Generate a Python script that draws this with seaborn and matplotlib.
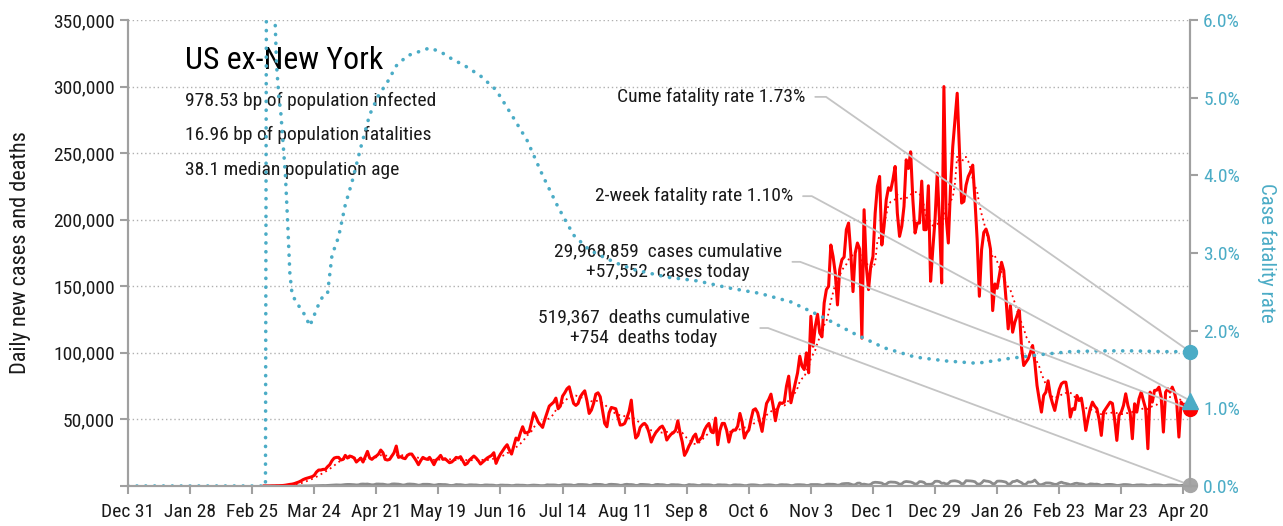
import numpy as np
import pandas as pd
import matplotlib
matplotlib.use("Agg")
import matplotlib.pyplot as plt
import matplotlib.dates as mdates
from matplotlib import font_manager
from matplotlib.ticker import FixedLocator, FuncFormatter
import seaborn as sns

# ---------------- data ----------------
start_date = "2020-03-01"
# daily new cases (thousands), weeks Sun..Sat from Mar 1 2020
cases_k = [
    0.0, 0.0, 0.0, 0.0, 0.1, 0.1, 0.2,
    0.2, 0.3, 0.4, 0.6, 0.9, 1.2, 1.4,
    1.8, 2.4, 3.0, 3.8, 4.8, 5.5, 6.0,
    6.5, 7.0, 8.0, 10.5, 12.0, 12.0, 12.5,
    12.5, 14.5, 16.0, 19.0, 21.0, 21.5, 21.5,
    19.5, 20.0, 23.0, 21.0, 22.5, 22.0, 21.0,
    18.0, 19.5, 21.0, 18.0, 22.0, 26.0, 21.0,
    20.0, 21.5, 22.5, 24.0, 27.0, 25.0, 20.0,
    19.5, 20.0, 22.5, 25.0, 30.0, 21.5, 22.0,
    21.0, 20.5, 23.0, 24.0, 24.0, 21.5, 19.0,
    16.0, 19.0, 21.5, 20.5, 20.0, 21.5, 19.0,
    16.0, 19.5, 21.0, 23.0, 20.0, 20.5, 19.0,
    17.5, 18.0, 19.5, 21.5, 21.0, 22.0, 19.0,
    16.0, 17.0, 19.5, 21.0, 22.5, 21.0, 19.0,
    16.5, 18.0, 19.5, 21.0, 22.0, 23.0, 25.0,
    17.0, 21.0, 24.0, 26.5, 29.0, 31.0, 27.0,
    24.0, 30.0, 36.0, 34.5, 40.0, 44.5, 40.0,
    40.0, 41.0, 48.0, 55.0, 52.0, 48.0, 46.0,
    44.0, 50.0, 55.0, 60.0, 61.5, 63.0, 66.0,
    58.0, 60.0, 67.5, 70.0, 73.0, 74.5, 68.0,
    62.0, 60.5, 62.0, 67.0, 69.5, 71.5, 64.0,
    54.5, 57.0, 62.0, 69.0, 70.0, 67.0, 57.0,
    47.0, 44.5, 55.0, 59.0, 58.5, 58.0, 52.0,
    45.75, 46.0, 47.0, 51.0, 56.0, 64.5, 47.0,
    36.0, 38.0, 44.0, 46.0, 47.0, 45.0, 40.0,
    33.0, 37.0, 40.0, 42.0, 44.0, 45.0, 42.0,
    34.5, 37.0, 39.0, 40.0, 42.0, 49.0, 40.0,
    33.0, 23.0, 26.0, 30.0, 33.0, 37.0, 39.0,
    33.0, 35.0, 37.0, 42.0, 45.0, 47.0, 41.0,
    40.0, 51.0, 31.0, 42.0, 47.0, 47.0, 42.0,
    33.0, 40.0, 42.0, 42.0, 45.0, 54.5, 48.0,
    36.0, 40.0, 42.0, 50.0, 57.0, 58.0, 55.0,
    48.0, 41.0, 52.0, 62.0, 65.0, 69.0, 60.0,
    49.0, 58.0, 62.5, 62.0, 63.0, 75.0, 82.5,
    62.5, 70.0, 77.5, 85.0, 97.5, 90.0, 87.5,
    100.0, 85.0, 127.5, 105.0, 120.0, 129.0, 115.0,
    112.0, 137.5, 147.5, 150.0, 181.0, 172.5, 160.0,
    136.0, 162.5, 170.0, 172.0, 192.5, 197.5, 175.0,
    146.0, 175.0, 182.5, 178.0, 111.0, 207.5, 165.0,
    147.5, 165.0, 172.5, 205.0, 225.0, 232.5, 181.0,
    195.0, 215.0, 224.0, 222.0, 230.0, 240.0, 205.0,
    187.5, 195.0, 210.0, 245.0, 238.5, 251.0, 215.0,
    190.0, 197.5, 197.5, 229.0, 192.5, 192.5, 225.5,
    153.75, 178.0, 200.0, 235.0, 200.0, 152.5, 300.0,
    202.5, 182.5, 225.0, 255.0, 275.0, 295.0, 252.5,
    212.5, 213.75, 226.0, 232.5, 236.0, 241.0, 215.0,
    185.0, 142.5, 177.5, 190.5, 193.0, 187.5, 178.0,
    131.75, 151.75, 148.5, 158.0, 168.0, 161.75, 140.5,
    118.0, 135.5, 115.5, 123.0, 128.0, 133.0, 104.25,
    90.5, 93.0, 95.5, 100.0, 105.5, 93.0, 75.5,
    65.0, 55.5, 68.0, 70.5, 79.0, 68.0, 62.0,
    56.75, 65.0, 72.5, 76.75, 78.0, 78.0, 68.0,
    51.75, 58.0, 57.5, 68.0, 64.25, 66.0, 55.5,
    41.75, 50.5, 58.0, 63.0, 60.0, 58.0, 50.0,
    38.0, 55.5, 58.0, 60.5, 63.0, 62.0, 50.0,
    34.25, 53.0, 55.5, 60.5, 69.25, 60.5, 55.0,
    35.5, 61.75, 55.5, 65.5, 70.5, 64.0, 58.0,
    28.0, 70.5, 63.0, 71.75, 72.0, 74.25, 66.75,
    40.5, 70.5, 73.0, 70.5, 74.25, 70.0, 63.0,
    36.75, 63.0, 59.25, 58.0, 58.5, 57.552,
]
# daily new deaths (thousands), same dates
deaths_k = [
    0, 0, 0, 0, 0, 0, 0,
    0, 0, 0, 0, 0, 0, 0.01,
    0.01, 0.02, 0.03, 0.04, 0.05, 0.06, 0.08,
    0.1, 0.15, 0.2, 0.25, 0.3, 0.35, 0.4,
    0.35, 0.45, 0.6, 0.7, 0.8, 0.85, 0.8,
    0.7, 0.9, 1.1, 1.2, 1.2, 1.1, 1.0,
    0.8, 0.9, 1.4, 1.5, 1.4, 1.5, 1.2,
    0.9, 1.0, 1.5, 1.5, 1.4, 1.4, 1.1,
    0.8, 0.9, 1.5, 1.6, 1.5, 1.4, 1.1,
    0.7, 0.9, 1.4, 1.5, 1.4, 1.3, 1.0,
    0.6, 0.8, 1.3, 1.3, 1.3, 1.2, 0.9,
    0.6, 0.8, 1.2, 1.2, 1.1, 1.1, 0.9,
    0.5, 0.4, 0.6, 1.1, 1.0, 1.0, 0.8,
    0.5, 0.6, 0.9, 0.9, 0.8, 0.8, 0.6,
    0.4, 0.5, 0.8, 0.8, 0.7, 0.7, 0.6,
    0.3, 0.4, 0.7, 0.7, 0.6, 0.6, 0.5,
    0.3, 0.4, 0.7, 0.7, 0.6, 0.6, 0.5,
    0.3, 0.4, 0.6, 0.7, 0.6, 0.5, 0.3,
    0.3, 0.4, 0.9, 0.8, 0.8, 0.8, 0.7,
    0.4, 0.5, 0.9, 1.0, 0.9, 0.9, 0.8,
    0.4, 0.6, 1.1, 1.1, 1.1, 1.0, 0.9,
    0.5, 0.6, 1.2, 1.3, 1.2, 1.2, 1.0,
    0.5, 0.6, 1.2, 1.3, 1.2, 1.1, 0.9,
    0.5, 0.6, 1.1, 1.3, 1.1, 1.1, 0.9,
    0.4, 0.5, 1.2, 1.2, 1.1, 1.0, 0.9,
    0.4, 0.5, 1.1, 1.2, 1.0, 1.0, 0.8,
    0.4, 0.5, 1.0, 1.0, 0.9, 0.9, 0.7,
    0.4, 0.3, 0.5, 1.1, 0.9, 0.9, 0.7,
    0.4, 0.4, 1.0, 0.9, 0.9, 0.9, 0.7,
    0.3, 0.4, 0.9, 0.9, 0.8, 0.8, 0.7,
    0.3, 0.3, 0.8, 0.9, 0.8, 0.8, 0.6,
    0.3, 0.3, 0.7, 0.9, 0.9, 0.8, 0.6,
    0.3, 0.3, 0.7, 0.8, 0.9, 0.8, 0.6,
    0.3, 0.4, 0.9, 1.0, 0.9, 0.9, 0.7,
    0.3, 0.4, 0.9, 1.0, 1.0, 0.9, 0.8,
    0.4, 0.5, 1.1, 1.1, 1.1, 1.1, 0.9,
    0.5, 0.6, 1.3, 1.4, 1.3, 1.3, 1.1,
    0.6, 0.8, 1.6, 1.8, 1.9, 1.9, 1.4,
    0.8, 1.0, 2.1, 2.2, 1.2, 1.4, 1.1,
    0.8, 1.2, 2.5, 2.8, 2.7, 2.5, 2.2,
    1.1, 1.4, 2.7, 3.0, 2.9, 2.8, 2.3,
    1.3, 1.6, 3.0, 3.4, 3.2, 3.0, 2.4,
    1.4, 1.8, 3.3, 3.2, 2.7, 1.2, 1.3,
    1.3, 1.8, 3.5, 3.6, 3.3, 2.0, 2.2,
    1.4, 1.9, 3.5, 3.8, 3.9, 3.6, 3.0,
    1.6, 1.9, 4.0, 3.9, 3.8, 3.6, 3.2,
    1.6, 1.3, 2.3, 4.1, 3.7, 3.5, 3.0,
    1.7, 1.8, 3.6, 3.7, 3.6, 3.3, 2.9,
    1.3, 1.7, 3.3, 3.5, 4.2, 3.3, 2.5,
    1.1, 1.4, 3.0, 2.9, 3.3, 4.5, 2.6,
    1.0, 1.0, 1.6, 2.3, 2.3, 2.2, 1.7,
    1.2, 1.3, 2.3, 2.9, 2.2, 1.9, 1.5,
    0.9, 1.3, 1.9, 2.1, 1.7, 1.6, 1.3,
    0.6, 0.9, 1.6, 1.5, 1.3, 1.4, 1.1,
    0.5, 0.6, 1.1, 1.2, 1.2, 1.1, 0.8,
    0.4, 0.5, 0.8, 1.1, 1.1, 1.0, 0.8,
    0.4, 0.5, 0.8, 0.8, 0.9, 0.8, 0.6,
    0.3, 0.4, 0.7, 0.9, 0.8, 0.8, 0.6,
    0.3, 0.4, 0.7, 0.8, 0.8, 0.7, 0.6,
    0.3, 0.4, 0.7, 0.8, 0.8, 0.754,
]
# cumulative case fatality rate (%)
cfr_dates = [
    "2019-12-31", "2020-03-02", "2020-03-03", "2020-03-04", "2020-03-05",
    "2020-03-06", "2020-03-07", "2020-03-08", "2020-03-09", "2020-03-10",
    "2020-03-11", "2020-03-12", "2020-03-13", "2020-03-14", "2020-03-16",
    "2020-03-18", "2020-03-20", "2020-03-22", "2020-03-24", "2020-03-26",
    "2020-03-28", "2020-03-30", "2020-04-01", "2020-04-04", "2020-04-07",
    "2020-04-10", "2020-04-14", "2020-04-18", "2020-04-22", "2020-04-26",
    "2020-04-30", "2020-05-05", "2020-05-10", "2020-05-15", "2020-05-20",
    "2020-05-25", "2020-05-31", "2020-06-07", "2020-06-14", "2020-06-21",
    "2020-06-28", "2020-07-05", "2020-07-12", "2020-07-19", "2020-07-26",
    "2020-08-02", "2020-08-09", "2020-08-16", "2020-08-30", "2020-09-13",
    "2020-09-27", "2020-10-11", "2020-10-25", "2020-11-08", "2020-11-22",
    "2020-12-06", "2020-12-20", "2021-01-03", "2021-01-17", "2021-01-31",
    "2021-02-14", "2021-02-28", "2021-03-14", "2021-03-28", "2021-04-11",
    "2021-04-23",
]
cfr_pct = [
    0.0, 0.0, 15.0, 12.0, 9.0,
    6.3, 5.42, 5.03, 4.78, 4.39,
    4.0, 3.4, 2.74, 2.47, 2.36,
    2.28, 2.19, 2.06, 2.2, 2.34,
    2.45, 2.48, 2.97, 3.21, 3.62,
    3.91, 4.36, 4.78, 5.03, 5.2,
    5.41, 5.54, 5.59, 5.64, 5.59,
    5.5, 5.41, 5.28, 5.1, 4.78,
    4.45, 4.0, 3.59, 3.23, 3.04,
    2.94, 2.85, 2.78, 2.69, 2.64,
    2.55, 2.48, 2.37, 2.18, 1.97,
    1.78, 1.66, 1.61, 1.58, 1.64,
    1.69, 1.73, 1.74, 1.74, 1.73,
    1.73,
]
two_week_cfr_pct = [1.10]
tick_labels = ["Dec 31", "Jan 28", "Feb 25", "Mar 24", "Apr 21", "May 19", "Jun 16",
               "Jul 14", "Aug 11", "Sep 8", "Oct 6", "Nov 3", "Dec 1", "Dec 29",
               "Jan 26", "Feb 23", "Mar 23", "Apr 20"]
title = "US ex-New York"
subtitle_lines = ["978.53 bp of population infected",
                  "16.96 bp of population fatalities",
                  "38.1 median population age"]
cume_label = "Cume fatality rate 1.73%"
two_week_label = "2-week fatality rate 1.10%"
cases_label = "29,968,859  cases cumulative\n+57,552  cases today"
deaths_label = "519,367  deaths cumulative\n+754  deaths today"

# ---------------- font choice: prefer a condensed sans ----------------
sns.set_style("white")
_faces = font_manager.fontManager.ttflist
_family, _stretch, _narrow = "Roboto", "normal", False
_pref = ["Roboto Condensed", "Liberation Sans Narrow", "DejaVu Sans Condensed",
         "Open Sans Condensed", "Noto Sans Condensed"]
_found = None
for p in _pref:
    for f in _faces:
        if f.name == p and f.style == "normal":
            _found = f
            break
    if _found:
        break
if _found is None:
    for fam in ["Roboto", "Noto Sans", "Open Sans", "DejaVu Sans"]:
        for f in _faces:
            if f.name == fam and f.style == "normal" and str(f.stretch) in (
                    "condensed", "semi-condensed", "extra-condensed", "75", "87.5", "62.5"):
                _found = f
                break
        if _found:
            break
if _found is not None:
    _family, _stretch, _narrow = _found.name, _found.stretch, True
plt.rcParams["font.family"] = [_family, "DejaVu Sans"]
plt.rcParams["font.stretch"] = _stretch
FS = 13.5 if _narrow else 12

TEAL = "#4bacc6"
RED = "#ff0000"
GREY_LINE = "#8c8c8c"
SPINE = "#a0a0a0"
ANN = "#c4c4c4"
TXT = "#1a1a1a"

dates = pd.date_range(start_date, periods=len(cases_k), freq="D")
cases = np.array(cases_k) * 1000.0
deaths = np.array(deaths_k) * 1000.0
df = pd.DataFrame({"date": dates, "cases": cases, "deaths": deaths})
df["cases_avg"] = df["cases"].rolling(7, min_periods=1).mean()
cfr_df = pd.DataFrame({"date": pd.to_datetime(cfr_dates), "cfr": cfr_pct})
last_date = dates[-1]
first_date = pd.Timestamp("2019-12-31")

fig = plt.figure(figsize=(12.83, 5.26), dpi=100)
ax = fig.add_axes([128 / 1283, 1 - 486 / 526, 1062 / 1283, 466 / 526])
ax2 = ax.twinx()

sns.lineplot(data=df, x="date", y="deaths", ax=ax, color=GREY_LINE, lw=2.0, estimator=None)
sns.lineplot(data=df, x="date", y="cases", ax=ax, color=RED, lw=2.2, estimator=None)
sns.lineplot(data=df, x="date", y="cases_avg", ax=ax, color=RED, lw=1.3,
             linestyle=(0, (1, 2)), estimator=None)
sns.lineplot(data=cfr_df, x="date", y="cfr", ax=ax2, color=TEAL, lw=2.6,
             linestyle=(0, (0.05, 2.4)), dash_capstyle="round", estimator=None)

ax.plot([last_date], [deaths[-1]], "o", color="#a6a6a6", ms=10, clip_on=False, zorder=10)
ax2.plot([last_date], [cases[-1] / 350000 * 6], "o", color=RED, ms=10, clip_on=False, zorder=9)
ax2.plot([last_date], [two_week_cfr_pct[-1]], "^", color=TEAL, ms=11, clip_on=False, zorder=10)
ax2.plot([last_date], [cfr_pct[-1]], "o", color=TEAL, ms=10, clip_on=False, zorder=10)

ax.set_xlim(first_date, last_date)
ax.set_ylim(0, 350000)
ax2.set_ylim(0, 6)
tick_dates = pd.date_range(first_date, periods=len(tick_labels), freq="28D")
ax.xaxis.set_major_locator(FixedLocator(mdates.date2num(tick_dates)))
ax.set_xticklabels(tick_labels)
ax.set_yticks(np.arange(0, 350001, 50000))
ax.yaxis.set_major_formatter(FuncFormatter(lambda v, p: "" if v == 0 else f"{int(v):,}"))
ax2.set_yticks(np.arange(0, 6.01, 1))
ax2.yaxis.set_major_formatter(FuncFormatter(lambda v, p: f"{v:.1f}%"))

ax.grid(axis="y", color="#b0b0b0", linestyle=(0, (1, 2)), lw=1.0)
ax.grid(axis="x", visible=False)
ax2.grid(False)
for a in (ax, ax2):
    a.spines["top"].set_visible(False)
    for s in ("left", "right", "bottom"):
        a.spines[s].set_color(SPINE)
        a.spines[s].set_linewidth(1.5)
ax.tick_params(axis="both", which="major", labelsize=FS + 0.5, colors=TXT, length=6,
               width=1.5, color=SPINE, direction="out", left=True, bottom=True)
ax.tick_params(axis="x", pad=6)
ax2.tick_params(axis="y", labelsize=FS + 0.5, labelcolor=TEAL, length=6, width=1.5,
                color=SPINE, direction="out", right=True)
ax.set_xlabel("")
ax.set_ylabel("Daily new cases and deaths", fontsize=FS + 2.5, color=TXT, labelpad=16)
ax2.set_ylabel("Case fatality rate", fontsize=FS + 1.5, color=TEAL, rotation=270, labelpad=26)

ax.text(0.054, 0.914, title, transform=ax.transAxes, fontsize=FS * 1.7, color="#000000",
        ha="left", va="center")
for i, line in enumerate(subtitle_lines):
    ax.text(0.054, 0.826 - i * 0.0735, line, transform=ax.transAxes, fontsize=FS * 1.04,
            color=TXT, ha="left", va="center")


def ann(axis, text, xy, xytext, arm):
    axis.annotate(text, xy=xy, xycoords="data", xytext=xytext, textcoords="axes fraction",
                  ha="right", va="center", fontsize=FS * 1.04, color=TXT,
                  multialignment="center",
                  arrowprops=dict(arrowstyle="-", color=ANN, lw=1.3, shrinkA=5, shrinkB=0,
                                  relpos=(1, 0.5),
                                  connectionstyle=f"arc,angleA=0,armA={arm},rad=0"),
                  zorder=3)


ann(ax2, cume_label, (last_date, cfr_pct[-1]), (0.6375, 0.835), 21)
ann(ax2, two_week_label, (last_date, two_week_cfr_pct[-1]), (0.626, 0.622), 19)
ann(ax, cases_label, (last_date, cases[-1]), (0.616, 0.481), 18)
ann(ax, deaths_label, (last_date, deaths[-1]), (0.5857, 0.339), 18)

fig.savefig("out.png", dpi=100)
